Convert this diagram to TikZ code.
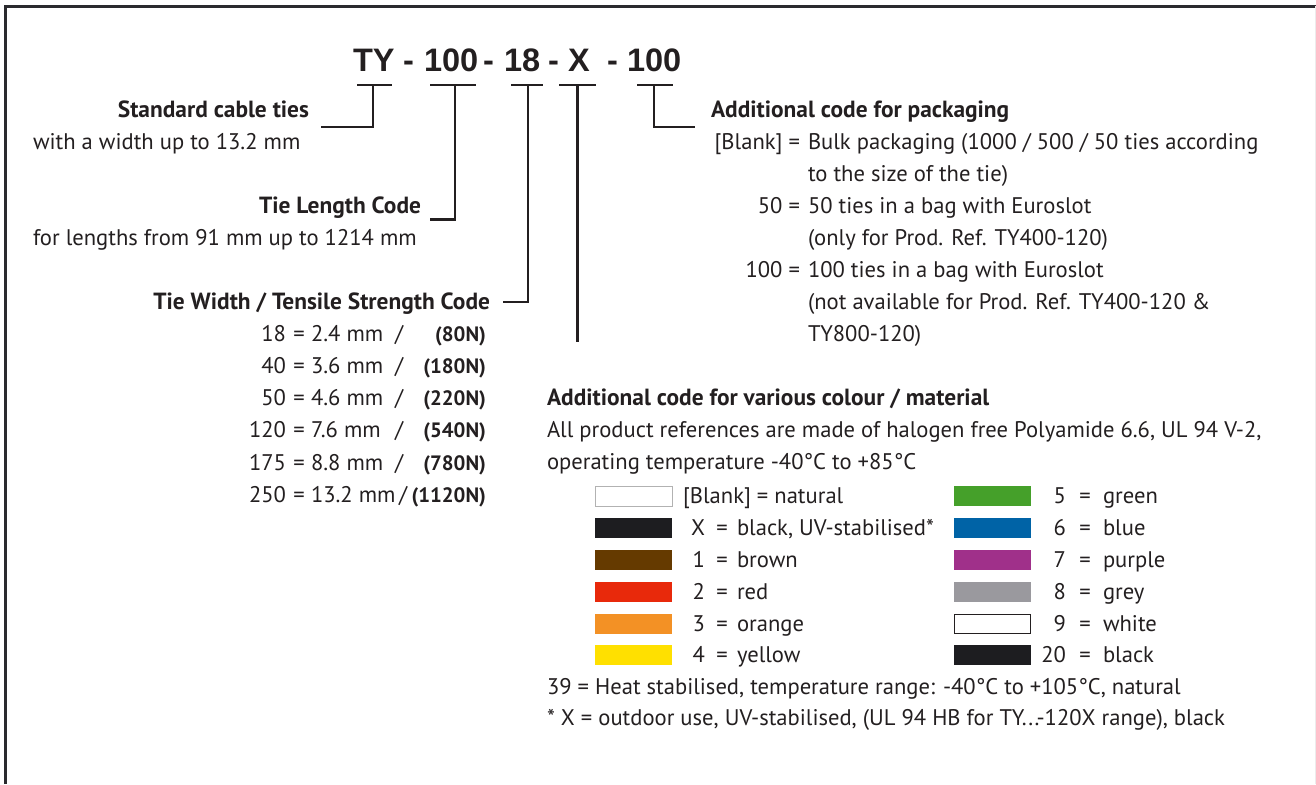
\documentclass[tikz,border=0pt]{standalone}
\usepackage{fontspec}
\setmainfont{PT Sans}
\newfontfamily\titlefont{Liberation Sans}
\definecolor{ink}{HTML}{231F20}
\definecolor{swblack}{HTML}{1D1D20}
\definecolor{swbrown}{HTML}{653A00}
\definecolor{swred}{HTML}{E8290B}
\definecolor{sworange}{HTML}{F39125}
\definecolor{swyellow}{HTML}{FFE000}
\definecolor{swgreen}{HTML}{45A02A}
\definecolor{swblue}{HTML}{0063A6}
\definecolor{swpurple}{HTML}{A0308A}
\definecolor{swgrey}{HTML}{9A999E}
\definecolor{frame}{HTML}{2A2A2E}
\begin{document}
\begin{tikzpicture}[x=1pt,y=-1pt,
  txt/.style={inner sep=0pt,outer sep=0pt,text=ink,font=\fontsize{22.6}{26}\selectfont},
  hd/.style={txt,font=\fontsize{23.4}{26}\selectfont\bfseries},
  bv/.style={txt,font=\fontsize{20.8}{26}\selectfont\bfseries},
  ttl/.style={inner sep=0pt,outer sep=0pt,text=ink,anchor=base west,font=\titlefont\fontsize{32.5}{36}\selectfont\bfseries},
  brk/.style={draw=ink,line width=2.4pt},
  sw/.style={minimum width=77pt,minimum height=20pt,inner sep=0pt,outer sep=0pt,anchor=west}]
\useasboundingbox (0,0) rectangle (1316,784);
% frame
\draw[frame,line width=3pt] (5.5,784) -- (5.5,6.5) -- (1316,6.5);
\draw[gray!15,line width=1pt] (1315.5,6.5) -- (1315.5,784);
% title
\node[ttl] (t1) at (353,71) {TY};
\node[ttl] (d1) at (403,71) {-};
\node[ttl] (t2) at (424,71) {100};
\node[ttl] (d2) at (483,71) {-};
\node[ttl] (t3) at (504,71) {18};
\node[ttl] (d3) at (548,71) {-};
\node[ttl] (t4) at (568,71) {X};
\node[ttl] (d4) at (607,71) {-};
\node[ttl] (t5) at (627,71) {100};
% bracket coordinates
\coordinate (b1l) at (357,85); \coordinate (b1r) at (392,85); \coordinate (b1m) at (373,85);
\coordinate (b2l) at (430,85); \coordinate (b2r) at (476,85); \coordinate (b2m) at (455,85);
\coordinate (b3l) at (511,85); \coordinate (b3r) at (543,85); \coordinate (b3m) at (528,85);
\coordinate (b4l) at (559,85); \coordinate (b4r) at (596,85); \coordinate (b4m) at (577.5,85);
\coordinate (b5l) at (637,85); \coordinate (b5r) at (673,85); \coordinate (b5m) at (654,85);
\coordinate (b4e) at (577.5,342);
\coordinate (c1) at (321,127);
\coordinate (c2) at (430,219.5);
\coordinate (c3) at (503,302);
\coordinate (c5) at (695,127);
% left labels
\node[hd,anchor=base east] (std) at (309,117) {Standard cable ties};
\node[txt,anchor=base west] (stdd) at (33,149) {with a width up to 13.2 mm};
\node[hd,anchor=base east] (len) at (421,213) {Tie Length Code};
\node[txt,anchor=base west] (lend) at (33,245) {for lengths from 91 mm up to 1214 mm};
\node[hd,anchor=base east] (wid) at (490,309) {Tie Width / Tensile Strength Code};
% brackets
\draw[brk] (b1l) -- (b1r);
\draw[brk] (b1m) |- (c1);
\draw[brk] (b2l) -- (b2r);
\draw[brk] (b2m) |- (c2);
\draw[brk] (b3l) -- (b3r);
\draw[brk] (b3m) |- (c3);
\draw[brk] (b4l) -- (b4r);
\draw[brk] (b4m) -- (b4e);
\draw[brk] (b5l) -- (b5r);
\draw[brk] (b5m) |- (c5);
% width table
\foreach \n/\v/\b/\sx [count=\i] in {18/2.4 mm/(80N)/399,40/3.6 mm/(180N)/399,50/4.6 mm/(220N)/399,120/7.6 mm/(540N)/399,175/8.8 mm/(780N)/399,250/13.2 mm/(1120N)/403}{
  \node[txt,anchor=base east] (wn\i) at (286,309+32.2*\i) {\n};
  \node[txt,anchor=base] (we\i) at (299,309+32.2*\i) {=};
  \node[txt,anchor=base west] (wv\i) at (311,309+32.2*\i) {\v};
  \node[txt,anchor=base] (ws\i) at (\sx,309+32.2*\i) {/};
  \node[bv,anchor=base east] (wb\i) at (486,309+32.2*\i) {\b};
}
% packaging
\node[hd,anchor=base west] (pk) at (711,117) {Additional code for packaging};
\node[txt,anchor=base east] (pk1) at (800,149) {[Blank] =};
\node[txt,anchor=base west] (pk1a) at (808,149) {Bulk packaging (1000 / 500 / 50 ties according};
\node[txt,anchor=base west] (pk1b) at (808,181) {to the size of the tie)};
\node[txt,anchor=base east] (pk2) at (800,213) {50 =};
\node[txt,anchor=base west] (pk2a) at (808,213) {50 ties in a bag with Euroslot};
\node[txt,anchor=base west] (pk2b) at (808,245) {(only for Prod. Ref. TY400-120)};
\node[txt,anchor=base east] (pk3) at (800,277) {100 =};
\node[txt,anchor=base west] (pk3a) at (808,277) {100 ties in a bag with Euroslot};
\node[txt,anchor=base west] (pk3b) at (808,309) {(not available for Prod. Ref. TY400-120 \&};
\node[txt,anchor=base west] (pk3c) at (808,341) {TY800-120)};
% colour / material
\node[hd,anchor=base west] (cm) at (547,405) {Additional code for various colour / material};
\node[txt,anchor=base west] (cm1) at (547,437) {All product references are made of halogen free Polyamide 6.6, UL 94 V-2,};
\node[txt,anchor=base west] (cm2) at (547,469) {operating temperature -40°C to +85°C};
% swatches left
\node[sw,fill=white,draw=gray!60,line width=1pt] (s0) at (595.5,496) {};
\node[sw,fill=swblack] (sx) at (595,528) {};
\node[sw,fill=swbrown] (s1) at (595,560) {};
\node[sw,fill=swred] (s2) at (595,592) {};
\node[sw,fill=sworange] (s3) at (595,624) {};
\node[sw,fill=swyellow] (s4) at (595,655) {};
\node[txt,anchor=base west] (l0) at (683,503) {[Blank] = natural};
\foreach \k/\w/\y [count=\i] in {X/black{,} UV-stabilised*/535,1/brown/567,2/red/599,3/orange/631,4/yellow/662}{
  \node[txt,anchor=base east] (ln\i) at (705,\y) {\k};
  \node[txt,anchor=base] (le\i) at (722,\y) {=};
  \node[txt,anchor=base west] (lw\i) at (737,\y) {\w};
}
% swatches right
\node[sw,fill=swgreen] (s5) at (954,496) {};
\node[sw,fill=swblue] (s6) at (954,528) {};
\node[sw,fill=swpurple] (s7) at (954,560) {};
\node[sw,fill=swgrey] (s8) at (954,592) {};
\node[sw,fill=white,draw=ink,line width=1.2pt,minimum width=76pt,minimum height=18.8pt] (s9) at (954.6,624) {};
\node[sw,fill=swblack] (s20) at (954,655) {};
\foreach \k/\w/\y [count=\i] in {5/green/503,6/blue/535,7/purple/567,8/grey/599,9/white/631,20/black/662}{
  \node[txt,anchor=base east] (rn\i) at (1066,\y) {\k};
  \node[txt,anchor=base] (re\i) at (1085,\y) {=};
  \node[txt,anchor=base west] (rw\i) at (1103,\y) {\w};
}
\node[txt,anchor=base west] (n39) at (547,694) {39 = Heat stabilised, temperature range: -40°C to +105°C, natural};
\node[txt,anchor=base west] (nx) at (547,725) {* X = outdoor use, UV-stabilised, (UL 94 HB for TY...-120X range), black};
\end{tikzpicture}
\end{document}
